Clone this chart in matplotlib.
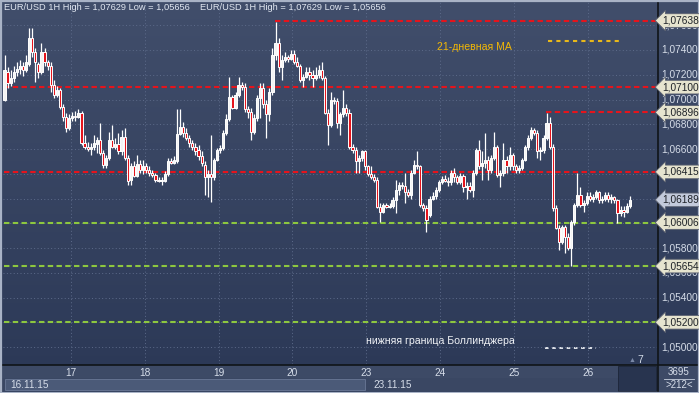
import numpy as np
import matplotlib
matplotlib.use("Agg")
import matplotlib.pyplot as plt
from matplotlib.patches import Rectangle

plt.rcParams['font.family'] = ['Liberation Sans', 'DejaVu Sans']

W, H = 699, 393

# EUR/USD 1H candles, 16.11.15 02:00 .. 26.11.15 13:00
opens = [
    1.0700, 1.0722, 1.0713, 1.0717, 1.0722, 1.0725, 1.0727, 1.0724, 1.0729, 1.0750, 1.0738,
    1.0729, 1.0722, 1.0738, 1.0730, 1.0727, 1.0712, 1.0704, 1.0708, 1.0694, 1.0686, 1.0677,
    1.0685, 1.0687, 1.0686, 1.0689, 1.0665, 1.0662, 1.0660, 1.0662, 1.0664, 1.0667, 1.0657, 1.0647,
    1.0653, 1.0667, 1.0662, 1.0664, 1.0658, 1.0670, 1.0653, 1.0635, 1.0646, 1.0638, 1.0648, 1.0643,
    1.0646, 1.0643, 1.0641, 1.0639, 1.0635, 1.0634, 1.0634, 1.0640, 1.0650, 1.0649, 1.0650, 1.0672,
    1.0678, 1.0673, 1.0669, 1.0665, 1.0662, 1.0659, 1.0654, 1.0647, 1.0637, 1.0640, 1.0637, 1.0651,
    1.0659, 1.0661, 1.0673, 1.0684, 1.0702, 1.0693, 1.0704, 1.0712, 1.0710, 1.0692, 1.0690, 1.0674,
    1.0685, 1.0701, 1.0709, 1.0696, 1.0688, 1.0706, 1.0736, 1.0746, 1.0726, 1.0732, 1.0734, 1.0733,
    1.0737, 1.0730, 1.0727, 1.0716, 1.0718, 1.0722, 1.0720, 1.0717, 1.0720, 1.0724, 1.0717, 1.0689,
    1.0679, 1.0700, 1.0699, 1.0681, 1.0688, 1.0693, 1.0689, 1.0662, 1.0659, 1.0650, 1.0653, 1.0658,
    1.0646, 1.0640, 1.0637, 1.0635, 1.0613, 1.0609, 1.0615, 1.0613, 1.0614, 1.0619, 1.0627, 1.0631,
    1.0630, 1.0625, 1.0623, 1.0641, 1.0647, 1.0646, 1.0615, 1.0612, 1.0607, 1.0620, 1.0622, 1.0627,
    1.0633, 1.0636, 1.0634, 1.0633, 1.0641, 1.0637, 1.0633, 1.0638, 1.0629, 1.0630, 1.0627, 1.0641,
    1.0659, 1.0646, 1.0649, 1.0651, 1.0643, 1.0653, 1.0662, 1.0639, 1.0641, 1.0651, 1.0646, 1.0655,
    1.0646, 1.0643, 1.0645, 1.0651, 1.0662, 1.0669, 1.0675, 1.0673, 1.0658, 1.0659, 1.0669, 1.0681,
    1.0662, 1.0612, 1.0596, 1.0585, 1.0597, 1.0589, 1.0580, 1.0601, 1.0615, 1.0623, 1.0615, 1.0616,
    1.0622, 1.0620, 1.0621, 1.0625, 1.0619, 1.0620, 1.0623, 1.0620, 1.0621, 1.0619, 1.0608, 1.0611,
    1.0609, 1.0614,
]
highs = [
    1.0736, 1.0726, 1.0724, 1.0727, 1.0730, 1.0732, 1.0730, 1.0736, 1.0758, 1.0758, 1.0742,
    1.0730, 1.0746, 1.0742, 1.0732, 1.0730, 1.0716, 1.0711, 1.0709, 1.0696, 1.0689, 1.0688,
    1.0690, 1.0691, 1.0692, 1.0691, 1.0671, 1.0666, 1.0665, 1.0671, 1.0670, 1.0681, 1.0659, 1.0655,
    1.0674, 1.0679, 1.0669, 1.0673, 1.0675, 1.0677, 1.0655, 1.0649, 1.0650, 1.0655, 1.0651, 1.0651,
    1.0649, 1.0646, 1.0643, 1.0641, 1.0637, 1.0637, 1.0642, 1.0653, 1.0653, 1.0654, 1.0692, 1.0692,
    1.0682, 1.0677, 1.0671, 1.0667, 1.0665, 1.0663, 1.0658, 1.0650, 1.0643, 1.0671, 1.0653, 1.0661,
    1.0663, 1.0675, 1.0688, 1.0718, 1.0704, 1.0706, 1.0718, 1.0714, 1.0713, 1.0695, 1.0693, 1.0688,
    1.0704, 1.0713, 1.0713, 1.0700, 1.0709, 1.0742, 1.07629, 1.0750, 1.0736, 1.0738, 1.0736, 1.0740,
    1.0740, 1.0734, 1.0729, 1.0721, 1.0726, 1.0726, 1.0724, 1.0726, 1.0728, 1.0730, 1.0719, 1.0692,
    1.0706, 1.0702, 1.0701, 1.0690, 1.0708, 1.0696, 1.0692, 1.0664, 1.0662, 1.0655, 1.0659, 1.0659,
    1.0647, 1.0646, 1.0640, 1.0637, 1.0616, 1.0616, 1.0616, 1.0616, 1.0621, 1.0635, 1.0633, 1.0633,
    1.0641, 1.0628, 1.0643, 1.0651, 1.0658, 1.0647, 1.0616, 1.0615, 1.0622, 1.0625, 1.0629, 1.0635,
    1.0638, 1.0639, 1.0637, 1.0643, 1.0645, 1.0639, 1.0641, 1.0640, 1.0633, 1.0633, 1.0643, 1.0661,
    1.0667, 1.0658, 1.0673, 1.0654, 1.0655, 1.0674, 1.0663, 1.0643, 1.0665, 1.0654, 1.0662, 1.0657,
    1.0648, 1.0647, 1.0653, 1.0663, 1.0671, 1.0678, 1.0677, 1.0675, 1.0662, 1.0671, 1.0689, 1.0686,
    1.0664, 1.0615, 1.0599, 1.0599, 1.0599, 1.0592, 1.0603, 1.0616, 1.0641, 1.0629, 1.0619, 1.0625,
    1.0625, 1.0624, 1.0627, 1.0626, 1.0622, 1.0625, 1.0625, 1.0624, 1.0622, 1.0620, 1.0614, 1.0614,
    1.0616, 1.0622,
]
lows = [
    1.0699, 1.0709, 1.0711, 1.0714, 1.0719, 1.0721, 1.0719, 1.0722, 1.0727, 1.0734, 1.0714,
    1.0717, 1.0721, 1.0727, 1.0724, 1.0706, 1.0701, 1.0702, 1.0692, 1.0683, 1.0674, 1.0675,
    1.0683, 1.0683, 1.0685, 1.0663, 1.0660, 1.0658, 1.0655, 1.0659, 1.0657, 1.0655, 1.0645, 1.0645,
    1.0651, 1.0661, 1.0660, 1.0656, 1.0655, 1.0651, 1.0631, 1.0631, 1.0637, 1.0637, 1.0641, 1.0640,
    1.0641, 1.0638, 1.0637, 1.0633, 1.0633, 1.0631, 1.0633, 1.0638, 1.0648, 1.0648, 1.0649, 1.0671,
    1.0670, 1.0667, 1.0662, 1.0659, 1.0655, 1.0651, 1.0646, 1.0623, 1.0621, 1.0617, 1.0635, 1.0650,
    1.0657, 1.0659, 1.0671, 1.0683, 1.0692, 1.0692, 1.0702, 1.0708, 1.0690, 1.0685, 1.0667, 1.0672,
    1.0683, 1.0685, 1.0693, 1.0669, 1.0683, 1.0704, 1.0732, 1.0722, 1.0716, 1.0730, 1.0730, 1.0732,
    1.0729, 1.0726, 1.0714, 1.0710, 1.0717, 1.0716, 1.0710, 1.0716, 1.0717, 1.0716, 1.0688, 1.0663,
    1.0678, 1.0696, 1.0677, 1.0671, 1.0686, 1.0687, 1.0660, 1.0657, 1.0641, 1.0641, 1.0650, 1.0643,
    1.0638, 1.0636, 1.0633, 1.0612, 1.0601, 1.0608, 1.0612, 1.0612, 1.0612, 1.0608, 1.0623, 1.0628,
    1.0616, 1.0621, 1.0620, 1.0640, 1.0644, 1.0613, 1.0610, 1.0593, 1.0605, 1.0619, 1.0620, 1.0625,
    1.0632, 1.0633, 1.0630, 1.0631, 1.0633, 1.0632, 1.0632, 1.0625, 1.0620, 1.0625, 1.0621, 1.0639,
    1.0644, 1.0635, 1.0645, 1.0635, 1.0641, 1.0651, 1.0637, 1.0629, 1.0638, 1.0641, 1.0643, 1.0643,
    1.0641, 1.0641, 1.0643, 1.0650, 1.0659, 1.0667, 1.0671, 1.0653, 1.0651, 1.0657, 1.0667, 1.0660,
    1.0610, 1.0595, 1.0578, 1.0583, 1.0576, 1.0578, 1.05656, 1.0599, 1.0613, 1.0613, 1.0609, 1.0615,
    1.0618, 1.0617, 1.0620, 1.0616, 1.0616, 1.0618, 1.0617, 1.0616, 1.0616, 1.0600, 1.0606, 1.0605,
    1.0608, 1.0612,
]
closes = [
    1.0724, 1.0713, 1.0717, 1.0722, 1.0725, 1.0727, 1.0724, 1.0730, 1.0750, 1.0738, 1.0730,
    1.0722, 1.0738, 1.0730, 1.0727, 1.0712, 1.0704, 1.0708, 1.0694, 1.0686, 1.0677, 1.0685,
    1.0687, 1.0686, 1.0689, 1.0665, 1.0662, 1.0660, 1.0662, 1.0665, 1.0667, 1.0657, 1.0647, 1.0653,
    1.0667, 1.0662, 1.0664, 1.0658, 1.0670, 1.0653, 1.0634, 1.0646, 1.0638, 1.0648, 1.0643, 1.0646,
    1.0643, 1.0641, 1.0639, 1.0635, 1.0634, 1.0635, 1.0640, 1.0650, 1.0649, 1.0651, 1.0672, 1.0678,
    1.0673, 1.0669, 1.0665, 1.0662, 1.0658, 1.0654, 1.0649, 1.0637, 1.0640, 1.0637, 1.0651, 1.0659,
    1.0661, 1.0673, 1.0684, 1.0702, 1.0693, 1.0704, 1.0712, 1.0710, 1.0692, 1.0690, 1.0674, 1.0685,
    1.0701, 1.0709, 1.0696, 1.0688, 1.0706, 1.0736, 1.0746, 1.0726, 1.0732, 1.0734, 1.0733, 1.0737,
    1.0730, 1.0727, 1.0716, 1.0718, 1.0722, 1.0720, 1.0717, 1.0720, 1.0724, 1.0717, 1.0689, 1.0679,
    1.0700, 1.0699, 1.0681, 1.0688, 1.0693, 1.0689, 1.0662, 1.0659, 1.0650, 1.0653, 1.0658, 1.0646,
    1.0640, 1.0637, 1.0635, 1.0613, 1.0609, 1.0615, 1.0613, 1.0614, 1.0619, 1.0627, 1.0631, 1.0630,
    1.0625, 1.0623, 1.0641, 1.0647, 1.0646, 1.0615, 1.0612, 1.0603, 1.0620, 1.0622, 1.0627, 1.0633,
    1.0636, 1.0634, 1.0633, 1.0641, 1.0637, 1.0633, 1.0638, 1.0629, 1.0630, 1.0627, 1.0641, 1.0659,
    1.0646, 1.0649, 1.0651, 1.0643, 1.0653, 1.0662, 1.0639, 1.0641, 1.0651, 1.0646, 1.0655, 1.0646,
    1.0643, 1.0645, 1.0651, 1.0662, 1.0669, 1.0675, 1.0673, 1.0658, 1.0659, 1.0669, 1.0681, 1.0662,
    1.0612, 1.0596, 1.0585, 1.0597, 1.0589, 1.0580, 1.0601, 1.0615, 1.0623, 1.0615, 1.0616, 1.0622,
    1.0620, 1.0621, 1.0625, 1.0619, 1.0620, 1.0623, 1.0620, 1.0621, 1.0619, 1.0608, 1.0611, 1.0609,
    1.0614, 1.06189,
]

day_labels = ["17", "18", "19", "20", "23", "24", "25", "26"]
day_first_candle = [22, 46, 70, 94, 118, 142, 166, 190]

grid_prices = [1.050, 1.052, 1.054, 1.056, 1.058, 1.060, 1.062, 1.064,
               1.066, 1.068, 1.070, 1.072, 1.074, 1.076]
# scale labels that the price tags cover completely
hidden_labels = [1.052, 1.060, 1.062, 1.064]

# (price, kind, first candle of the line)
level_prices = [1.07638, 1.07100, 1.06896, 1.06415, 1.06006, 1.05654, 1.05200]
level_kinds = ["res", "res", "res", "res", "sup", "sup", "sup"]
level_start = [88, 0, 176, 0, 0, 0, 0]
last_price = 1.06189

title = "EUR/USD 1H High = 1,07629 Low = 1,05656"

# ---------------------------------------------------------------
BG_TOP, BG_BOT = "#414e6b", "#2b3856"
RED, GREEN = "#e5141c", "#8dc73f"
LBL = "#d6dde9"


def fx(px):
    return px / W


def fy(py):
    return 1 - py / H


def fmt(p):
    return f"{p:.5f}".replace(".", ",")


fig = plt.figure(figsize=(W / 100, H / 100), dpi=100)

# full-figure background in pixel coordinates
bg = fig.add_axes([0, 0, 1, 1])
bg.set_xlim(0, W)
bg.set_ylim(H, 0)
bg.axis("off")
grad = np.linspace(0, 1, 256).reshape(-1, 1)
cmap = matplotlib.colors.LinearSegmentedColormap.from_list("bg", [BG_TOP, BG_BOT])
bg.imshow(grad, cmap=cmap, extent=(0, W, H, 0), aspect="auto", zorder=0)

# bottom time strip + status bar
bg.add_patch(Rectangle((2, 365), 655, 13, fc="#3d4a66", ec="none", zorder=1))
bg.add_patch(Rectangle((2, 378), 655, 13, fc="#3a4763", ec="none", zorder=1))
bg.add_patch(Rectangle((5, 379), 360, 11, fc="#4b5a78", ec="#6a7896", lw=0.6, zorder=2))
bg.add_patch(Rectangle((618, 366), 38, 25, fc="#28344f", ec="#1c2538", lw=0.6, zorder=2))
bg.add_patch(Rectangle((658, 365), 40, 26, fc="#3d4a66", ec="none", zorder=1))
bg.plot([2, 699], [364.5, 364.5], color="#101418", lw=1.2, zorder=3)
bg.plot([657.5, 657.5], [0, 393], color="#101418", lw=1.2, zorder=3)
bg.plot([664, 694], [378.5, 378.5], color="#c8d0de", lw=0.6, zorder=3)
bg.add_patch(Rectangle((0.5, 0.5), W - 1, H - 1, fc="none", ec="#a9b3c6", lw=1.6, zorder=5))

bg.text(10, 384.5, "16.11.15", color=LBL, fontsize=7.2, va="center", ha="left", zorder=4)
bg.text(373, 384.5, "23.11.15", color=LBL, fontsize=7.2, va="center", ha="left", zorder=4)
bg.text(679, 372, "3695", color=LBL, fontsize=7, va="center", ha="center", zorder=4)
bg.text(679, 385, ">212<", color=LBL, fontsize=7, va="center", ha="center", zorder=4)
bg.text(640, 360, "7", color=LBL, fontsize=7.5, va="center", ha="center", zorder=4)
bg.text(632, 361, "\u25B2", color="#7a88a6", fontsize=5, va="center", ha="center", zorder=4)

bg.text(4, 8, title, color="#e2e8f2", fontsize=6.7, va="center", ha="left", zorder=4)
bg.text(200, 8, title, color="#e2e8f2", fontsize=6.7, va="center", ha="left", zorder=4)

# legend-like annotations
bg.text(437, 47, "21-дневная MA", color="#f2b705", fontsize=7.6, va="center", ha="left", zorder=4)
bg.plot([548, 623], [41, 41], color="#e8b81a", lw=1.5, ls=(0, (2, 2)), zorder=4)
bg.text(366, 341.5, "нижняя граница Боллинджера", color="#f0f2f6", fontsize=7.6,
        va="center", ha="left", zorder=4)
bg.plot([545, 596], [348, 348], color="#f0f2f6", lw=1.3, ls=(0, (2, 2)), zorder=4)

# main price axes: x 3..657 px, y 2..364 px
ax = fig.add_axes([fx(3), fy(364), fx(654), 362 / H])
ax.set_facecolor("none")
n = len(closes)
x = np.arange(n)
ax.set_xlim(-0.49, -0.49 + 654 / 3.08)
ax.set_ylim(1.07804 - 0.0000808 * 364, 1.07804 - 0.0000808 * 2)
for s in ax.spines.values():
    s.set_visible(False)
ax.set_xticks([])
ax.set_yticks([])

# grid
for p in grid_prices:
    ax.axhline(p, color="#5d6b8a", lw=0.7, ls=(0, (1, 2.5)), zorder=1)
for d in day_first_candle:
    ax.axvline(d - 0.5, color="#5d6b8a", lw=0.7, ls=(0, (1, 2.5)), zorder=1)

# support / resistance levels
for p, k, s in zip(level_prices, level_kinds, level_start):
    col = RED if k == "res" else GREEN
    ax.hlines(p, s - 0.3, ax.get_xlim()[1], colors=col, lw=1.5,
              linestyles=[(0, (2.6, 1.6))], zorder=2)

# candles
o = np.array(opens)
c = np.array(closes)
hi = np.array(highs)
lo = np.array(lows)
up = c >= o
ax.vlines(x, lo, hi, color="white", lw=0.9, zorder=3)
body_bot = np.minimum(o, c)
body_h = np.maximum(np.abs(c - o), 0.00003)
ax.bar(x, body_h, bottom=body_bot, width=0.72,
       color=np.where(up, "#f4f4f4", RED), edgecolor="white", lw=0.7, zorder=4)

# right price scale
ty = ax.get_yaxis_transform()
for p in grid_prices:
    if any(abs(p - h) < 1e-9 for h in hidden_labels):
        continue
    ax.text(1.006, p, fmt(p), transform=ty, color=LBL, fontsize=7.3,
            va="center", ha="left", clip_on=False, zorder=5)
for p in level_prices + [last_price]:
    fc = "#c3cadb" if p == last_price else "#e6e4cf"
    ax.text(1.0085, p, fmt(p), transform=ty, color="#1e2228", fontsize=7.3,
            va="center", ha="left", clip_on=False, zorder=6,
            bbox=dict(boxstyle="larrow,pad=0.18", fc=fc, ec="#5a6070", lw=0.6))

# day labels
tx = ax.get_xaxis_transform()
for lab, d in zip(day_labels, day_first_candle):
    ax.text(d - 0.5, -0.025, lab, transform=tx, color=LBL, fontsize=7.3,
            va="center", ha="center", clip_on=False)

fig.savefig("out.png", dpi=100)
